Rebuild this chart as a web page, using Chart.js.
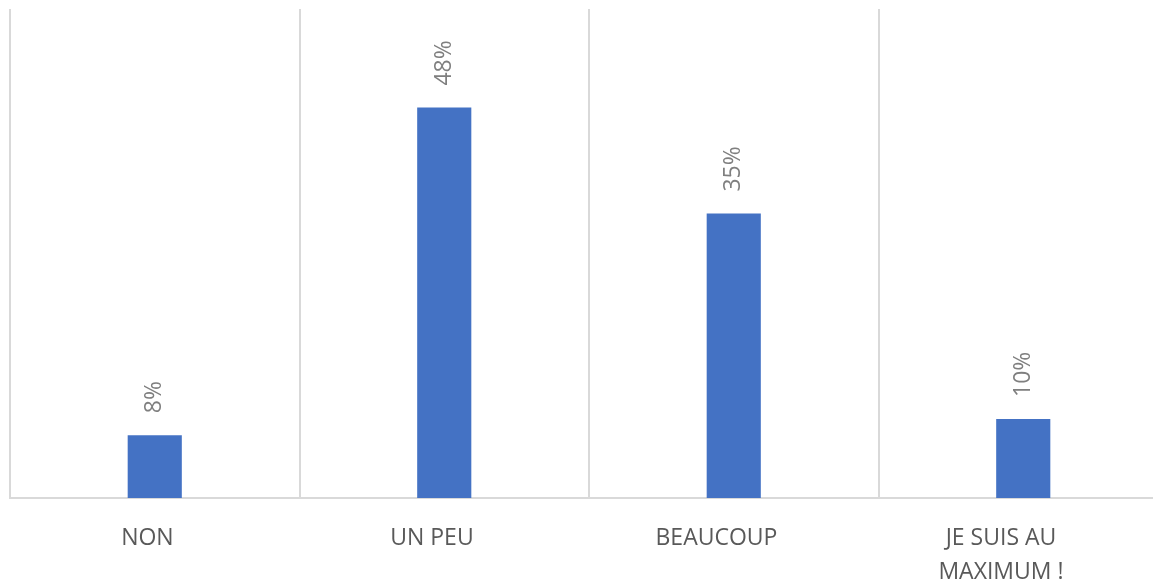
<!DOCTYPE html>
<html lang="fr">
<head>
    <meta charset="UTF-8">
    <title>Réponses</title>
    <script src="https://cdn.jsdelivr.net/npm/chart.js"></script>
    <style>
        body {
            margin: 0;
            padding: 0;
            background-color: #ffffff;
            overflow: hidden;
        }

        /* wider than the window: the last category is cut on the right, like the reference */
        .chart-container {
            width: 1170px;
            height: 585px;
        }
    </style>
</head>
<body>
    <div class="chart-container">
        <canvas id="barChart"></canvas>
    </div>

    <script>
        const categories = ['NON', 'UN PEU', 'BEAUCOUP', ['JE SUIS AU', 'MAXIMUM !']];
        const shares = [0.077, 0.479, 0.349, 0.097];
        const yMax = 0.6;

        // rotated percentage labels above each bar
        const valueLabels = {
            id: 'valueLabels',
            afterDatasetsDraw(chart) {
                const ctx = chart.ctx;
                const meta = chart.getDatasetMeta(0);
                ctx.save();
                ctx.font = '23px "Open Sans", sans-serif';
                ctx.fillStyle = '#7f7f7f';
                ctx.textAlign = 'left';
                ctx.textBaseline = 'middle';
                meta.data.forEach((bar, i) => {
                    ctx.save();
                    ctx.translate(bar.x, bar.y - 22);
                    ctx.rotate(-Math.PI / 2);
                    ctx.fillText(Math.round(shares[i] * 100) + '%', 0, 0);
                    ctx.restore();
                });
                ctx.restore();
            }
        };

        const ctx = document.getElementById('barChart').getContext('2d');
        new Chart(ctx, {
            type: 'bar',
            data: {
                labels: categories,
                datasets: [{
                    data: shares,
                    backgroundColor: '#4472c4',
                    borderWidth: 0,
                    categoryPercentage: 1,
                    barPercentage: 0.187
                }]
            },
            options: {
                responsive: true,
                maintainAspectRatio: false,
                animation: false,
                layout: { padding: { left: 10, right: 2, top: 9, bottom: 0 } },
                plugins: {
                    legend: { display: false },
                    tooltip: { enabled: false }
                },
                scales: {
                    x: {
                        grid: {
                            color: '#d9d9d9',
                            lineWidth: 2,
                            drawTicks: false
                        },
                        border: { color: '#d9d9d9', width: 2 },
                        ticks: { display: false },
                        afterFit(scale) { scale.height = 0; }
                    },
                    // category names sit a little left of the bars in the original,
                    // so they get their own axis with a slightly tighter spacing
                    labelAxis: {
                        type: 'linear',
                        position: 'bottom',
                        offset: false,
                        min: -0.483,
                        max: 3.587,
                        grid: { display: false, drawTicks: true, tickLength: 24 },
                        border: { display: false },
                        afterBuildTicks(scale) {
                            scale.ticks = categories.map((c, i) => ({ value: i }));
                        },
                        ticks: {
                            color: '#595959',
                            font: { family: '"Open Sans", sans-serif', size: 23, lineHeight: 1.47 },
                            padding: 0,
                            maxRotation: 0,
                            autoSkip: false,
                            callback: (v) => categories[v]
                        },
                        afterFit(scale) { scale.height = 87; }
                    },
                    y: {
                        display: false,
                        min: 0,
                        max: yMax
                    }
                }
            },
            plugins: [valueLabels]
        });
    </script>
</body>
</html>
